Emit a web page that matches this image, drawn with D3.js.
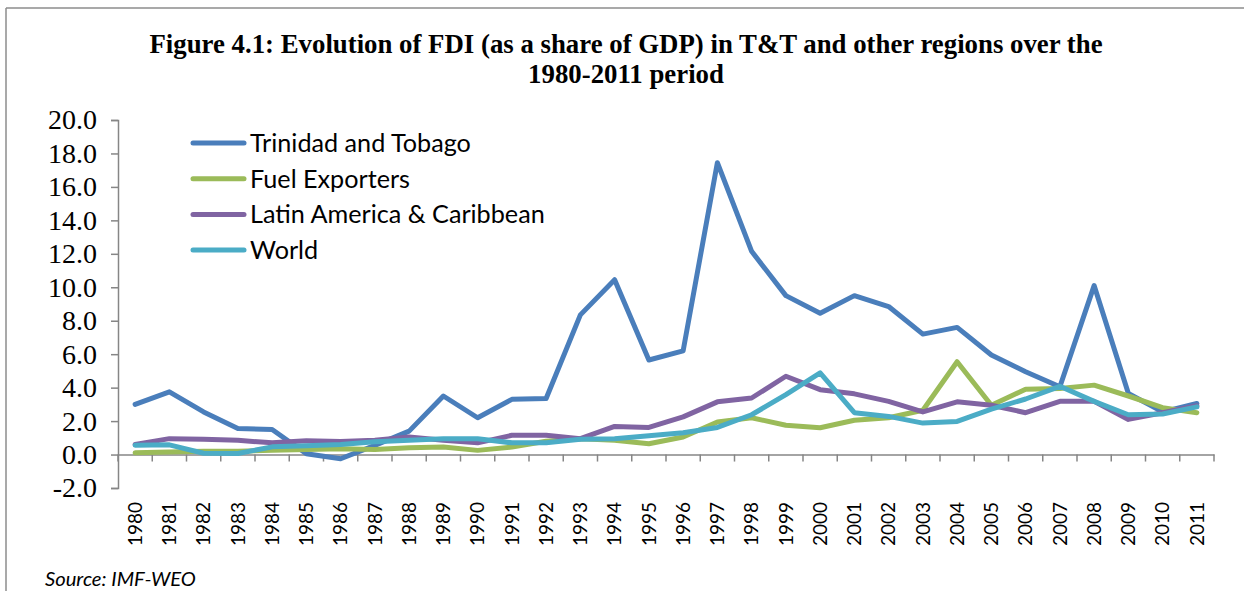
<!DOCTYPE html>
<html>
<head>
<meta charset="utf-8">
<script src="https://cdn.jsdelivr.net/npm/d3@7"></script>
<style>
  html, body { margin: 0; padding: 0; background: #fff; }
  svg { display: block; }
</style>
</head>
<body>
<svg id="chart" width="1244" height="591"></svg>
<script>
const years = ["1980","1981","1982","1983","1984","1985","1986","1987","1988","1989","1990","1991","1992","1993","1994","1995","1996","1997","1998","1999","2000","2001","2002","2003","2004","2005","2006","2007","2008","2009","2010","2011"];

const trinidad = [3.0,3.75,2.55,1.55,1.5,0.05,-0.25,0.55,1.4,3.5,2.2,3.3,3.35,8.35,10.45,5.65,6.2,17.45,12.15,9.5,8.45,9.5,8.85,7.2,7.6,5.95,4.95,4.05,10.1,3.65,2.55,3.05];
const fuelExporters = [0.1,0.15,0.2,0.2,0.25,0.3,0.35,0.3,0.4,0.45,0.25,0.45,0.8,0.95,0.85,0.65,1.05,1.95,2.2,1.75,1.6,2.05,2.2,2.65,5.55,2.95,3.9,3.95,4.15,3.5,2.8,2.5];
const latinAmerica = [0.6,0.95,0.92,0.85,0.7,0.82,0.78,0.85,1.05,0.85,0.7,1.15,1.15,0.95,1.68,1.62,2.25,3.15,3.38,4.68,3.88,3.63,3.18,2.55,3.15,2.95,2.5,3.18,3.18,2.1,2.5,2.92];
const world = [0.56,0.58,0.08,0.06,0.46,0.52,0.6,0.76,0.86,0.95,0.95,0.7,0.7,0.92,0.95,1.12,1.3,1.62,2.38,3.58,4.88,2.5,2.28,1.88,1.98,2.72,3.32,4.08,3.18,2.38,2.42,2.85];

const seriesNames = ["Trinidad and Tobago","Fuel Exporters","Latin America & Caribbean","World"];
const seriesColors = ["#4A7EBB","#9BBB59","#8064A2","#4BACC6"];
const seriesValues = [trinidad, fuelExporters, latinAmerica, world];

const yTicks = [-2,0,2,4,6,8,10,12,14,16,18,20];
const titleLines = ["Figure 4.1: Evolution of FDI (as a share of GDP) in T&T and other regions over the","1980-2011 period"];
const sourceText = "Source: IMF-WEO";

const svg = d3.select("#chart");
const axisColor = "#868686";

// frame
svg.append("line").attr("x1",6).attr("x2",1244).attr("y1",8).attr("y2",8).attr("stroke","#8c8c8c").attr("stroke-width",1.5);
svg.append("line").attr("x1",6).attr("x2",6).attr("y1",8).attr("y2",591).attr("stroke","#8c8c8c").attr("stroke-width",1.5);

// title
svg.selectAll("text.title").data(titleLines).enter().append("text")
  .attr("class","title")
  .attr("x",626).attr("y",(d,i)=>53+i*30)
  .attr("text-anchor","middle")
  .attr("font-family","'Liberation Serif','Times New Roman',serif")
  .attr("font-weight","bold")
  .attr("font-size",26.8)
  .attr("fill","#000")
  .text(d=>d);

const x = d3.scaleBand().domain(years).range([118,1214]).padding(0);
const y = d3.scaleLinear().domain([-2,20]).range([488,120]);
const cx = d => x(d) + x.bandwidth()/2;

// y axis
const fmt = d3.format(".1f");
const yAxis = d3.axisLeft(y).tickValues(yTicks).tickSize(7).tickPadding(14)
  .tickFormat(d => fmt(d).replace("\u2212","-"));
const gy = svg.append("g").attr("transform","translate(118,0)").call(yAxis);
gy.select(".domain").attr("stroke",axisColor).attr("stroke-width",1.5);
gy.selectAll(".tick line").attr("stroke",axisColor).attr("stroke-width",1.5);
gy.selectAll(".tick text")
  .attr("font-family","'Liberation Serif','Times New Roman',serif")
  .attr("font-size",28).attr("fill","#000");

// x axis at 0
const xAxis = d3.axisBottom(x).tickSize(0).tickFormat(d=>d);
const gx = svg.append("g").attr("transform",`translate(0,${y(0)})`).call(xAxis);
gx.select(".domain").attr("stroke",axisColor).attr("stroke-width",1.5);
gx.selectAll(".tick text").remove();
// boundary ticks
const bounds = d3.range(years.length+1).map(i => 118 + i*x.bandwidth());
gx.selectAll("line.btick").data(bounds).enter().append("line")
  .attr("class","btick")
  .attr("x1",d=>d).attr("x2",d=>d).attr("y1",0).attr("y2",7)
  .attr("stroke",axisColor).attr("stroke-width",1.5);

// x labels below plot
svg.append("g").selectAll("text").data(years).enter().append("text")
  .attr("transform",d=>`translate(${cx(d)},502) rotate(-90)`)
  .attr("text-anchor","end")
  .attr("dy","0.35em")
  .attr("font-family","Lato, 'Open Sans', sans-serif")
  .attr("font-size",19)
  .attr("fill","#000")
  .text(d=>d);

// lines
const line = d3.line().x((d,i)=>cx(years[i])).y(d=>y(d));
svg.append("g").selectAll("path").data(seriesValues).enter().append("path")
  .attr("d",d=>line(d))
  .attr("fill","none")
  .attr("stroke",(d,i)=>seriesColors[i])
  .attr("stroke-width",5)
  .attr("stroke-linejoin","round")
  .attr("stroke-linecap","round");

// legend
const lg = svg.append("g").selectAll("g").data(seriesNames).enter().append("g")
  .attr("transform",(d,i)=>`translate(0,${143+i*35.7})`);
lg.append("line").attr("x1",193).attr("x2",244).attr("y1",0).attr("y2",0)
  .attr("stroke",(d,i)=>seriesColors[i]).attr("stroke-width",5).attr("stroke-linecap","round");
lg.append("text").attr("x",250).attr("y",0).attr("dy","0.35em")
  .attr("font-family","Lato, 'Open Sans', sans-serif")
  .attr("font-size",25.2).attr("fill","#000")
  .text(d=>d);

// source
svg.append("text").attr("x",45).attr("y",586)
  .attr("font-family","Lato, 'Open Sans', sans-serif")
  .attr("font-style","italic")
  .attr("font-size",20.2).attr("fill","#000")
  .text(sourceText);
</script>
</body>
</html>
